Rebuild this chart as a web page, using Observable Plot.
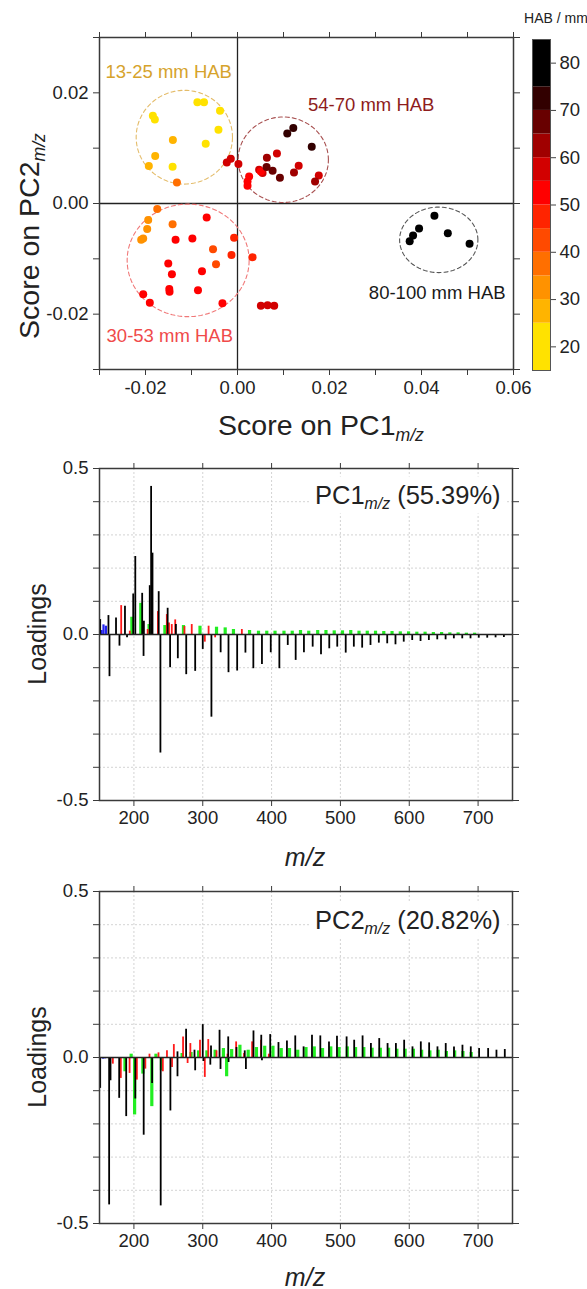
<!DOCTYPE html>
<html>
<head>
<meta charset="utf-8">
<script src="https://cdn.jsdelivr.net/npm/d3@7"></script>
<script src="https://cdn.jsdelivr.net/npm/@observablehq/plot@0.6"></script>
<style>
  html, body { margin: 0; padding: 0; background: #fff; }
  body { font-family: "Liberation Sans", Arial, sans-serif; color: #222; }
  #wrap { position: relative; width: 587px; height: 1289px; overflow: hidden; }
  .abs { position: absolute; }
  .lbl { position: absolute; white-space: nowrap; transform: translate(-50%, -50%); color: #222; }
  .sub { font-size: 0.62em; font-style: italic; position: relative; top: 0.32em; }
  .rot { transform: translate(-50%, -50%) rotate(-90deg); }
</style>
</head>
<body>
<div id="wrap"></div>
<script>
// ---------------- DATA ----------------
// Score plot: [PC1 score, PC2 score, HAB (mm)]
const group13to25 = [
  [-0.00872, 0.01828, 15], [-0.00728, 0.01828, 17], [-0.0184, 0.01587, 19], [-0.01797, 0.01516, 20],
  [-0.0038, 0.01678, 22], [-0.00414, 0.01334, 23], [-0.00691, 0.0108, 24], [-0.01411, 0.00664, 21],
  [-0.01405, 0.01147, 29], [-0.01789, 0.00858, 27], [-0.01928, 0.00677, 28], [-0.01317, 0.0038, 38]
];
const group30to53 = [
  [-0.01745, -0.00101, 37], [-0.01941, -0.003, 33], [-0.01963, -0.00463, 31], [-0.0205, -0.00633, 30],
  [-0.02094, -0.00657, 31], [-0.01411, -0.00373, 36], [-0.0067, -0.00253, 52], [-0.01346, -0.00657, 51],
  [-0.00981, -0.00633, 53], [-0.00074, -0.00621, 47], [-0.00532, -0.00825, 42], [-0.00131, -0.00929, 46],
  [0.00327, -0.0097, 45], [-0.00467, -0.01097, 41], [-0.01505, -0.01086, 50], [-0.01426, -0.01278, 51],
  [-0.00772, -0.01224, 50], [-0.01483, -0.01544, 52], [-0.01477, -0.01593, 53], [-0.00859, -0.01567, 51],
  [-0.0205, -0.0164, 50], [-0.01906, -0.01792, 52], [-0.00327, -0.01803, 53],
  [0.00508, -0.01846, 57], [0.00654, -0.01839, 58], [0.00798, -0.01846, 59]
];
const group54to70 = [
  [-0.00233, 0.00742, 56], [-0.00146, 0.00809, 57], [0.0002, 0.00713, 55],
  [0.00253, 0.00489, 54], [0.00218, 0.00398, 54], [0.00218, 0.0032, 53],
  [0.0047, 0.0061, 55], [0.00545, 0.0055, 56], [0.00508, 0.00579, 54],
  [0.00639, 0.00827, 62], [0.00632, 0.00659, 67], [0.00763, 0.00592, 68], [0.00857, 0.00905, 57],
  [0.00922, 0.00465, 66], [0.01082, 0.01267, 72], [0.01213, 0.01365, 73], [0.01614, 0.01026, 71],
  [0.01228, 0.00561, 63], [0.0133, 0.00682, 58], [0.01767, 0.00507, 59], [0.01686, 0.00398, 61]
];
const group80to100 = [
  [0.04281, -0.00223, 80], [0.03947, -0.00452, 85], [0.03817, -0.00579, 90],
  [0.03743, -0.00681, 95], [0.04572, -0.00536, 100], [0.05045, -0.00729, 100]
];
// group annotations: label, label position, ellipse centre / radii (data units), colours
const groupLabels = ["13-25 mm HAB", "30-53 mm HAB", "54-70 mm HAB", "80-100 mm HAB"];
const labelPos = [[-0.01495, 0.02378], [-0.01472, -0.02395], [0.02907, 0.01781], [0.04342, -0.01622]];
const ellipses = [[-0.01156, 0.01198, 0.01047, 0.00847], [-0.01073, -0.01028, 0.01326, 0.01017],
                  [0.00995, 0.00791, 0.00981, 0.00773], [0.04375, -0.00657, 0.00851, 0.00592]];
const labelColors = ["#D6A32C", "#F04A4A", "#8E1C1C", "#1a1a1a"];
const ellipseColors = ["#E4BC6A", "#F07878", "#A85050", "#555555"];

// colour bar (HAB / mm)
const habBreaks = [25, 30, 35, 40, 45, 50, 55, 60, 65, 70, 75];
const habColors = ["#FFE200", "#FFB400", "#FF9200", "#FF6F00", "#FF4A00", "#FF2400", "#FF0000",
                   "#D20000", "#A00000", "#680000", "#320000", "#000000"];
const habBands = [[15, 25], [25, 30], [30, 35], [35, 40], [40, 45], [45, 50], [50, 55], [55, 60], [60, 65], [65, 70], [70, 75], [75, 85]];
const habTicks = [20, 30, 40, 50, 60, 70, 80];

// Loadings: [m/z, loading]
const pc1Black = [
  [151, 0.045], [163, 0.057], [174, 0.05], [187, 0.085], [199, 0.122], [202, 0.235], [212, 0.124],
  [214.5, 0.04], [223, 0.147], [225, 0.446], [227, 0.245], [236, 0.129], [249, 0.079], [261, 0.03],
  [164.5, -0.127], [179, -0.035], [190, -0.01], [214, -0.066], [238.5, -0.357], [252.6, -0.1], [263.8, -0.073],
  [276, -0.121], [289, -0.111], [300, -0.045], [312.6, -0.249], [326, -0.055], [337.4, -0.115],
  [350, -0.11], [362, -0.056], [373.5, -0.103], [386, -0.09], [398.8, -0.055], [411.3, -0.103],
  [423.5, -0.033], [435, -0.078], [447, -0.055], [459.7, -0.038], [471.8, -0.061], [483.8, -0.043],
  [495.4, -0.038], [507.7, -0.056], [519.5, -0.038], [531.6, -0.041], [543.7, -0.033], [555.8, -0.026],
  [568, -0.028], [580, -0.031], [592, -0.023], [604.3, -0.018], [616.4, -0.021], [628.5, -0.018],
  [640.7, -0.016], [652.8, -0.016], [664.8, -0.013], [677, -0.013], [689, -0.013], [701, -0.011],
  [713.3, -0.011], [725.4, -0.010], [737.5, -0.009]
];
const pc1Red = [
  [181.5, 0.087], [194, 0.01], [220, 0.015], [234.8, 0.069], [247.8, 0.06], [251, 0.035], [255, 0.03],
  [260, 0.044], [273.4, 0.024], [284, 0.03], [308.5, 0.025], [356.8, 0.015], [303, -0.023], [318, -0.01]
];
const pc1Green = [
  [197, 0.052], [210, 0.094], [222, 0.03], [245, 0.027], [272, 0.027], [296, 0.025], [320, 0.022],
  [332.6, 0.02], [344.6, 0.015], [368, 0.012], [381, 0.01], [393, 0.01], [405, 0.01], [418, 0.01],
  [430, 0.01], [442, 0.012], [454, 0.01], [467, 0.012], [479, 0.012], [491, 0.011], [503, 0.011],
  [515, 0.012], [527, 0.01], [539, 0.01], [551, 0.01], [563, 0.009], [575, 0.009], [587, 0.008],
  [599, 0.008], [611, 0.007], [623, 0.007], [635, 0.006], [647, 0.006], [659, 0.005], [671, 0.005],
  [683, 0.004], [695, 0.004]
];
const pc1Blue = [[153, 0.012], [155.8, 0.029], [159.3, 0.025]];

const pc2Black = [
  [151, -0.093], [164, -0.444], [166, -0.07], [178.6, -0.123], [188.8, -0.178], [202, -0.125],
  [214.2, -0.234], [226.4, -0.078], [238.9, -0.447], [253, -0.161], [263.3, -0.058], [289, -0.04],
  [311, -0.023], [325.8, -0.036], [362.7, -0.036], [301, -0.012], [337.5, -0.015], [386, -0.01],
  [263.3, 0.017], [275.8, 0.085], [288, 0.022], [300, 0.099], [312, 0.035], [324.4, 0.082], [337, 0.062],
  [349, 0.03], [361, 0.02], [373.7, 0.080], [385, 0.067], [398, 0.069], [410, 0.045], [422.3, 0.05],
  [434.4, 0.065], [446.5, 0.032], [458.7, 0.067], [470.8, 0.065], [483.4, 0.047], [495, 0.064],
  [509, 0.062], [520, 0.052], [532.2, 0.065], [544.3, 0.042], [556.4, 0.057], [568.5, 0.042],
  [580.6, 0.042], [592.6, 0.052], [604.7, 0.032], [616.8, 0.047], [628.9, 0.044], [641, 0.032],
  [653, 0.042], [665, 0.032], [677.3, 0.037], [689.4, 0.032], [701.5, 0.027], [714.6, 0.027],
  [726.7, 0.022], [738.8, 0.024]
];
const pc2Red = [
  [169.4, -0.02], [181, -0.063], [193.7, -0.048], [204.3, -0.068], [216.6, -0.035], [242, -0.043],
  [255.4, -0.03], [278, -0.018], [303, -0.06], [222.6, 0.01], [235.7, 0.014], [248, 0.02], [258, 0.039],
  [271.4, 0.062], [282, 0.042], [296, 0.052], [308, 0.054], [320, 0.02], [336, 0.01], [348.5, 0.047],
  [360, 0.012], [371.7, 0.047], [384.7, 0.052], [396, 0.01]
];
const pc2Green = [
  [187, -0.043], [201, -0.173], [213, -0.05], [226, -0.148], [240, -0.04], [334.7, -0.058],
  [196, 0.01], [232, 0.01], [270, 0.012], [283, 0.015], [294, 0.02], [306, 0.02], [318, 0.022],
  [330, 0.027], [342, 0.024], [354, 0.037], [366, 0.022], [378, 0.03], [390, 0.034], [402, 0.034],
  [414, 0.027], [426, 0.027], [438, 0.022], [450, 0.03], [462, 0.032], [474, 0.027], [486, 0.032],
  [498, 0.03], [510, 0.032], [522, 0.03], [534, 0.03], [546, 0.028], [558, 0.028], [570, 0.028],
  [582, 0.025], [594, 0.025], [606, 0.025], [618, 0.022], [630, 0.02], [642, 0.022], [654, 0.018],
  [666, 0.02], [678, 0.018], [690, 0.015]
];
const pc2Blue = [[155, -0.005], [158, -0.004]];

const scoreTicks = [-0.03, -0.02, -0.01, 0, 0.01, 0.02, 0.03, 0.04, 0.05, 0.06];
const scoreTicksY = [-0.03, -0.02, -0.01, 0, 0.01, 0.02, 0.03];
const mzTicks = [200, 300, 400, 500, 600, 700];
const loadTicks = [-0.5, -0.4, -0.3, -0.2, -0.1, 0, 0.1, 0.2, 0.3, 0.4, 0.5];
const loadGrid = [-0.4, -0.3, -0.2, -0.1, 0.1, 0.2, 0.3, 0.4];

// ---------------- HELPERS ----------------
const FONT = '"Liberation Sans", Arial, sans-serif';
const wrap = document.getElementById("wrap");
function place(node, left, top) {
  const d = document.createElement("div");
  d.className = "abs"; d.style.left = left + "px"; d.style.top = top + "px";
  d.appendChild(node); wrap.appendChild(d); return d;
}
function label(html, cx, cy, size, rotate, extra) {
  const d = document.createElement("div");
  d.className = "lbl" + (rotate ? " rot" : "");
  d.style.left = cx + "px"; d.style.top = cy + "px"; d.style.fontSize = size + "px";
  d.innerHTML = html;
  if (extra) Object.assign(d.style, extra);
  wrap.appendChild(d); return d;
}
const fmtScore = d => (Math.round(d * 100) % 2 === 0 ? d.toFixed(2) : "");
const fmtLoad = d => (Math.round(d * 10) % 5 === 0 ? d.toFixed(1) : "");
const frameColor = "#3a3a3a";
function ellipsePts(e) {
  const [cx, cy, rx, ry] = e;
  return d3.range(0, 361, 3).map(a => ({x: cx + rx * Math.cos(a * Math.PI / 180), y: cy + ry * Math.sin(a * Math.PI / 180)}));
}

// ---------------- SCORE PLOT ----------------
const allPoints = [...group13to25, ...group30to53, ...group54to70, ...group80to100];
const scorePlot = Plot.plot({
  width: 587, height: 445,
  marginLeft: 99, marginRight: 74, marginTop: 37, marginBottom: 76,
  x: {domain: [-0.03, 0.06]},
  y: {domain: [-0.03, 0.03]},
  color: {type: "threshold", domain: habBreaks, range: habColors},
  style: {fontFamily: FONT, fontSize: "18.5px", color: "#222", background: "white", overflow: "visible"},
  marks: [
    Plot.ruleX([0], {stroke: "#222", strokeWidth: 1.3}),
    Plot.ruleY([0], {stroke: "#222", strokeWidth: 1.3}),
    ...ellipses.map((e, i) => Plot.line(ellipsePts(e), {x: "x", y: "y", stroke: ellipseColors[i], strokeWidth: 1.1, strokeDasharray: "4,3"})),
    Plot.dot(allPoints, {x: d => d[0], y: d => d[1], fill: d => d[2], r: 4}),
    ...groupLabels.map((t, i) => Plot.text([t], {x: labelPos[i][0], y: labelPos[i][1], text: d => d, fill: labelColors[i], fontSize: 18.5})),
    Plot.frame({stroke: frameColor, strokeWidth: 1.5}),
    Plot.axisX({ticks: scoreTicks, tickFormat: fmtScore, tickSize: 6, tickPadding: 5, label: null, stroke: frameColor}),
    Plot.axisX({ticks: scoreTicks, anchor: "top", tickFormat: () => "", tickSize: 6, label: null, stroke: frameColor}),
    Plot.axisY({ticks: scoreTicksY, tickFormat: fmtScore, tickSize: 6, tickPadding: 5, label: null, stroke: frameColor}),
    Plot.axisY({ticks: scoreTicksY, anchor: "right", tickFormat: () => "", tickSize: 6, label: null, stroke: frameColor})
  ]
});
place(scorePlot, 0, 0);

// colour bar
const barPlot = Plot.plot({
  width: 67, height: 350,
  marginLeft: 12, marginRight: 37, marginTop: 9, marginBottom: 10,
  x: {domain: [0, 1], axis: null},
  y: {domain: [15, 85]},
  color: {type: "threshold", domain: habBreaks, range: habColors},
  style: {fontFamily: FONT, fontSize: "18.5px", color: "#222", overflow: "visible"},
  marks: [
    Plot.rect(habBands, {x1: 0, x2: 1, y1: d => d[0], y2: d => d[1], fill: d => (d[0] + d[1]) / 2}),
    Plot.frame({stroke: "#555", strokeWidth: 1}),
    Plot.axisY({ticks: habTicks, anchor: "right", tickSize: 5, tickPadding: 4, label: null, stroke: "#444"})
  ]
});
place(barPlot, 520, 30);
label("HAB / mm", 556, 18, 14);

// axis titles for score plot
label('Score on PC1<span class="sub">m/z</span>', 321, 425, 28.5);
label('Score on PC2<span class="sub">m/z</span>', 29, 236, 28.5, true);

// ---------------- LOADINGS ----------------
function loadingPlot(black, red, green, blue, mTop, height, mBottom) {
  const stick = (data, color, w) => Plot.ruleX(data, {x: d => d[0], y1: 0, y2: d => d[1], stroke: color, strokeWidth: w});
  return Plot.plot({
    width: 587, height,
    marginLeft: 99, marginRight: 75, marginTop: mTop, marginBottom: mBottom,
    x: {domain: [150, 750]},
    y: {domain: [-0.5, 0.5]},
    style: {fontFamily: FONT, fontSize: "18.5px", color: "#222", background: "white", overflow: "visible"},
    marks: [
      Plot.gridX({ticks: mzTicks, stroke: "#c8c8c8", strokeOpacity: 1, strokeDasharray: "2,2", strokeWidth: 0.8}),
      Plot.gridY({ticks: loadGrid, stroke: "#c8c8c8", strokeOpacity: 1, strokeDasharray: "2,2", strokeWidth: 0.8}),
      stick(green, "#22ee22", 3.2),
      stick(red, "#ff1a1a", 1.8),
      stick(blue, "#2222ee", 2.2),
      stick(black, "#000", 1.8),
      Plot.ruleY([0], {stroke: "#222", strokeWidth: 1.3}),
      Plot.frame({stroke: frameColor, strokeWidth: 1.5}),
      Plot.axisX({ticks: mzTicks, tickSize: 6, tickPadding: 4, label: null, stroke: frameColor}),
      Plot.axisX({ticks: mzTicks, anchor: "top", tickFormat: () => "", tickSize: 6, label: null, stroke: frameColor}),
      Plot.axisY({ticks: loadTicks, tickFormat: fmtLoad, tickSize: 6, tickPadding: 5, label: null, stroke: frameColor}),
      Plot.axisY({ticks: loadTicks, anchor: "right", tickFormat: () => "", tickSize: 6, label: null, stroke: frameColor})
    ]
  });
}
place(loadingPlot(pc1Black, pc1Red, pc1Green, pc1Blue, 23, 430, 75), 0, 445);
place(loadingPlot(pc2Black, pc2Red, pc2Green, pc2Blue, 16, 414, 66), 0, 875);

const boxStyle = {background: "rgba(255,255,255,0.96)", padding: "4px 6px", transform: "translate(0,-50%)"};
label('PC1<span class="sub">m/z</span> (55.39%)', 309, 495, 25.5, false, boxStyle);
label('PC2<span class="sub">m/z</span> (20.82%)', 309, 920, 25.5, false, boxStyle);
label("Loadings", 37, 634, 25, true);
label("Loadings", 37, 1057, 25, true);
label('<i>m/z</i>', 305, 857, 25);
label('<i>m/z</i>', 305, 1277, 25);
</script>
</body>
</html>
